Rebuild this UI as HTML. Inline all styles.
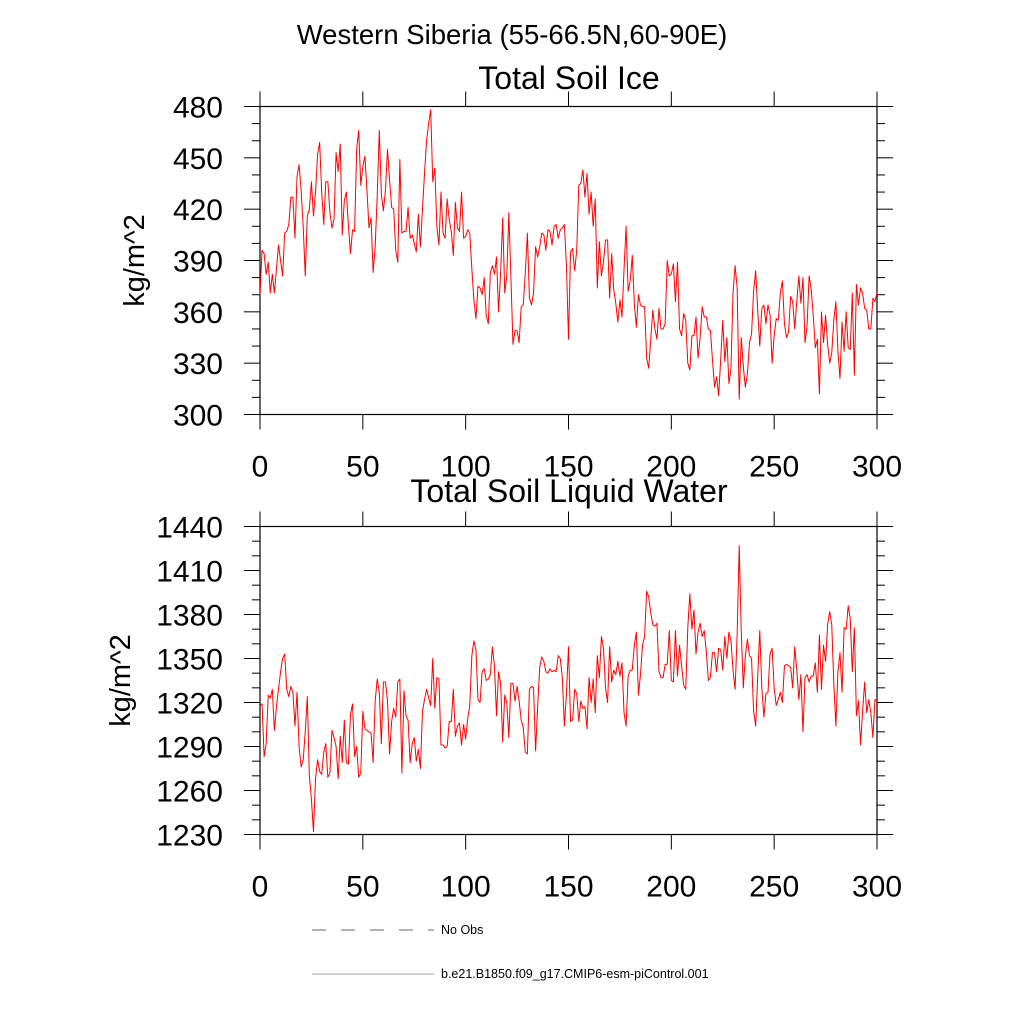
<!DOCTYPE html>
<html><head><meta charset="utf-8"><style>
html,body{margin:0;padding:0;background:#fff;}
svg{display:block;font-family:"Liberation Sans",sans-serif;}
</style></head><body>
<svg id="chart" width="1024" height="1024" viewBox="0 0 1024 1024">
<text x="512" y="44" font-size="27.5" text-anchor="middle">Western Siberia (55-66.5N,60-90E)</text>
<g id="p1"></g>
<g id="p2"></g>
<g>
<line x1="312" y1="930" x2="434" y2="930" stroke="#333" stroke-width="0.8" stroke-dasharray="14,15"/>
<text x="441" y="934" font-size="12.5">No Obs</text>
<line x1="312" y1="974" x2="434" y2="974" stroke="#888" stroke-width="0.8"/>
<text x="441" y="978" font-size="12.5">b.e21.B1850.f09_g17.CMIP6-esm-piControl.001</text>
</g>
</svg>
<script>
const xTicks = [0,50,100,150,200,250,300];
const iceTicks = [300,330,360,390,420,450,480];
const liqTicks = [1230,1260,1290,1320,1350,1380,1410,1440];
const iceValues = [370,396,394,382,389,371,382,371,385,399,390,381,406,407,411,427,427,403,439,446,431,410,381,416,420,436,416,430,452,459,430,411,436,436,418,409,414,453,442,458,405,425,430,410,394,408,407,455,466,434,445,451,431,409,415,383,398,428,466,429,419,431,455,437,421,420,396,389,449,406,407,407,421,403,
405,400,395,417,398,420,441,460,470,478,436,444,410,399,430,406,403,426,414,407,393,424,409,407,430,403,404,408,406,385,367,356,375,374,370,380,358,353,383,387,382,392,360,383,415,371,381,418,380,341,349,349,342,363,364,383,406,368,364,371,398,392,398,406,405,396,408,407,399,410,411,403,408,409,411,387,344,395,397,384,396,
434,435,443,427,441,417,430,410,426,374,401,381,389,402,402,368,394,373,365,354,367,357,385,410,372,378,393,365,351,370,364,363,363,333,327,344,361,350,344,362,350,350,353,390,381,382,388,366,389,350,346,359,355,330,326,346,346,357,333,345,363,357,357,350,349,332,316,322,311,332,
355,331,345,318,327,371,387,374,309,345,328,316,324,342,347,372,384,361,340,362,364,353,364,358,330,346,356,355,371,378,353,345,348,369,366,350,366,381,365,380,342,352,381,373,358,339,344,312,360,342,358,341,330,336,355,366,337,321,354,337,360,339,338,371,323,376,364,374,371,362,361,350,350,368,366,371];
const liqValues = [1318,1319,1283,1292,1325,1323,1329,1301,1317,1329,1341,1350,1353,1329,1324,1331,1327,1304,1327,1290,1276,1281,1300,1324,1270,1254,1232,1268,1281,1273,1271,1286,1292,1269,1272,1301,1296,1290,1268,1297,1279,1308,1279,1278,1312,1319,1283,1290,1269,1272,1314,1302,1301,1300,1299,1279,1321,1336,1327,1292,1334,1334,1321,1285,1307,1316,1310,1334,1336,1272,1328,1311,1308,1279,1292,1296,1280,
1288,1275,1314,1322,1329,1323,1318,1350,1316,1337,1336,1291,1291,1289,1290,1307,1307,1329,1297,1304,1306,1291,1305,1295,1309,1318,1352,1362,1356,1322,1320,1341,1343,1335,1336,1339,1358,1345,1311,1341,1333,1293,1325,1320,1296,1333,1333,1321,1331,1321,1308,1303,1286,1285,1329,1331,1330,1287,1317,1344,1351,1348,1341,1340,1343,1341,1342,1341,1352,1350,1337,1304,1326,1358,
1307,1308,1329,1326,1307,1321,1316,1317,1302,1337,1320,1336,1313,1352,1337,1365,1357,1330,1320,1358,1334,1342,1339,1348,1338,1347,1313,1304,1338,1342,1342,1359,1368,1325,1339,1359,1365,1396,1392,1381,1373,1372,1374,1341,1337,1337,1346,1346,1369,1335,1334,1369,1338,1359,1345,1332,1329,1371,1394,1370,1383,1353,1368,1374,1365,1369,1355,1335,1337,1354,1354,1341,1357,1356,1342,1365,
1350,1368,1362,1342,1329,1366,1427,1368,1330,1352,1363,1352,1350,1314,1304,1338,1369,1330,1310,1326,1327,1353,1357,1330,1318,1322,1327,1320,1345,1346,1345,1344,1330,1358,1342,1322,1339,1300,1337,1339,1334,1338,1338,1347,1327,1366,1329,1359,1348,1373,1382,1373,1333,1304,1341,1354,1327,1371,1370,1386,1377,1341,1371,1311,1321,1291,1314,1334,1313,1322,1313,1296,1322,1321];

const NS='http://www.w3.org/2000/svg';
function mk(parent,tag,attrs,text){const e=document.createElementNS(NS,tag);for(const k in attrs)e.setAttribute(k,attrs[k]);if(text!==undefined)e.textContent=text;parent.appendChild(e);return e;}

function drawPanel(g,values,yTicks,title,top,bottom,titleY,prefix){
  const L=260,R=877;
  const yMin=yTicks[0],yMax=yTicks[yTicks.length-1];
  const xs=v=>L+(v-0)/(300-0)*(R-L);
  const ys=v=>bottom-(v-yMin)/(yMax-yMin)*(bottom-top);
  const t=mk(g,'text',{x:569,y:titleY,'font-size':32,'text-anchor':'middle'},title);
  
  
  const fr=mk(g,'rect',{x:L,y:top,width:R-L,height:bottom-top,fill:'none',stroke:'#000','stroke-width':1.2});
  
  
  for(let v=yMin; v<=yMax; v+=10){
    const y=ys(v);const major=((v-yMin)%30===0);const len=major?16:8;
    mk(g,'line',{x1:L-len,y1:y,x2:L,y2:y,stroke:'#000','stroke-width':1});
    mk(g,'line',{x1:R,y1:y,x2:R+len,y2:y,stroke:'#000','stroke-width':1});
  }
  yTicks.forEach(v=>{
    const lb=mk(g,'text',{x:223,y:ys(v)+11,'font-size':30,'text-anchor':'end'},String(v));
    
    
  });
  xTicks.forEach(v=>{
    const x=xs(v);
    mk(g,'line',{x1:x,y1:bottom,x2:x,y2:bottom+15,stroke:'#000','stroke-width':1});
    mk(g,'line',{x1:x,y1:top-15,x2:x,y2:top,stroke:'#000','stroke-width':1});
    const lb=mk(g,'text',{x:x,y:bottom+62,'font-size':30,'text-anchor':'middle'},String(v));
    
    
  });
  const yl=mk(g,'text',{x:0,y:0,'font-size':29,'text-anchor':'middle',transform:'translate('+(prefix==='ice'?144:130)+','+((top+bottom)/2)+') rotate(-90)'},'kg/m^2');
  
  
  const pts=values.map((v,i)=>xs(i).toFixed(2)+','+ys(v).toFixed(2)).join(' ');
  const pl=mk(g,'polyline',{points:pts,fill:'none',stroke:'#ff0000','stroke-width':1,'stroke-linejoin':'round'});
  
  
}
drawPanel(document.getElementById('p1'),iceValues,iceTicks,'Total Soil Ice',106.5,414.5,89,'ice');
drawPanel(document.getElementById('p2'),liqValues,liqTicks,'Total Soil Liquid Water',526.5,834.5,502,'liquid');
</script>
</body></html>
